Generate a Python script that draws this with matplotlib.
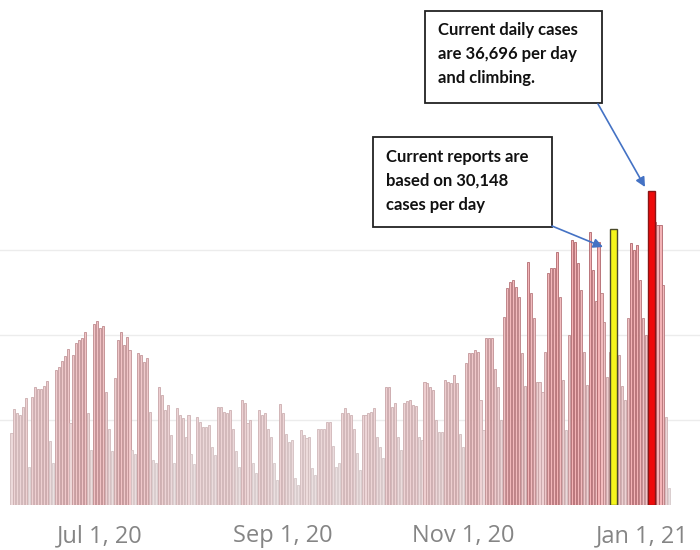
"""
Daily new cases bar chart with two callout boxes (highlighted days).
"""

import matplotlib
matplotlib.use('Agg')
import matplotlib.pyplot as plt
from matplotlib.colors import to_rgb
from matplotlib.patches import Rectangle, FancyArrowPatch
import numpy as np
import pandas as pd

# daily cases (thousands), Jun 1 2020 .. Jan 10 2021
cases = [
    8.5, 11.3, 10.8, 10.6, 11.5, 12.6, 4.5,
    12.7, 13.9, 13.7, 13.7, 14.0, 14.6, 7.5,
    4.9, 15.9, 16.2, 16.9, 17.5, 18.3, 9.6,
    17.6, 19.1, 19.4, 19.7, 20.3, 10.8, 6.5,
    21.3, 21.6, 20.8, 21.1, 13.3, 9.0, 6.4,
    15.0, 19.4, 20.4, 18.8, 19.8, 18.2, 6.5,
    6.0, 17.9, 17.6, 16.8, 17.3, 11.0, 5.3,
    5.0, 13.9, 12.9, 11.2, 11.8, 8.2, 4.9,
    11.4, 10.6, 10.2, 8.0, 10.6, 6.0, 4.8,
    10.4, 9.8, 9.2, 9.2, 9.4, 6.8, 5.9,
    11.5, 11.5, 11.0, 10.8, 11.2, 9.0, 6.3,
    4.5, 12.4, 12.0, 9.6, 10.0, 4.9, 3.8,
    11.2, 10.6, 10.8, 9.0, 8.0, 5.0, 2.9,
    11.9, 10.8, 8.4, 7.4, 7.6, 3.2, 2.4,
    8.8, 8.2, 7.9, 8.0, 4.4, 3.5, 9.0,
    9.0, 9.0, 9.8, 9.8, 7.0, 4.5, 5.0,
    10.8, 11.4, 10.8, 10.6, 9.0, 6.1, 4.1,
    10.6, 10.6, 10.8, 10.9, 11.4, 8.0, 6.8,
    5.5, 13.9, 13.9, 11.5, 12.0, 8.0, 6.5,
    12.0, 12.2, 12.4, 11.8, 11.6, 8.0, 7.6,
    14.5, 14.3, 13.9, 13.5, 10.0, 8.6, 8.6,
    14.7, 14.5, 14.3, 15.3, 14.3, 8.4, 6.8,
    16.7, 17.9, 17.9, 18.2, 18.0, 12.4, 8.8,
    19.6, 19.6, 19.6, 16.0, 13.9, 10.0, 22.1,
    25.5, 26.2, 26.5, 25.6, 24.5, 17.9, 14.0,
    28.6, 24.9, 22.0, 14.5, 14.5, 13.3, 18.0,
    27.3, 27.9, 27.9, 29.8, 24.5, 14.7, 8.8,
    20.0, 31.2, 30.9, 28.5, 25.3, 18.0, 14.1,
    32.1, 27.6, 24.0, 30.9, 25.0, 21.5, 15.1,
    18.0, 30.1, 25.0, 17.6, 14.0, 12.4, 22.0,
    30.8, 30.0, 30.6, 26.5, 22.0, 20.0, 18.0,
    36.7, 33.3, 33.0, 33.0, 25.9, 10.4, 2.0,
]
dates = pd.date_range('2020-06-01', periods=len(cases), freq='D')

# highlighted days
hl_dates = pd.to_datetime(['2020-12-22', '2021-01-04'])
hl_values = [32.5, 37.0]
hl_colors = ['#f5f51c', '#ee0a0a']

tick_dates = pd.to_datetime(['2020-07-01', '2020-09-01', '2020-11-01', '2021-01-01'])
tick_labels = ['Jul 1, 20', 'Sep 1, 20', 'Nov 1, 20', 'Jan 1, 21']

W, H = 700, 550


def mix(c1, c2, t):
    a, b = np.array(to_rgb(c1)), np.array(to_rgb(c2))
    return tuple(a + (b - a) * t)


fig = plt.figure(figsize=(7, 5.5), dpi=100)
ax = fig.add_axes([0, 45 / H, 1, 1 - 45 / H])

vals = np.array(cases)
t = np.clip((vals - 5) / 25, 0, 1)
faces = [mix('#ebdfe0', '#f4b3b6', v) for v in t]
edges = [mix('#d6c8c9', '#b0666b', v) for v in t]
ax.bar(dates, vals, width=0.7, color=faces, edgecolor=edges, linewidth=0.6, zorder=2)

ax.bar(hl_dates, hl_values, width=2.3, color=hl_colors,
       edgecolor=['#4a4a2a', '#8a1515'], linewidth=1.0, zorder=3)

start = dates[0]
ax.set_xlim(start - pd.Timedelta(days=3.9), start + pd.Timedelta(days=233.4))
ax.set_ylim(0, 505 / 8.5)
ax.set_yticks([10, 20, 30])
ax.yaxis.grid(True, color='#ececec', linewidth=1, zorder=0)
ax.set_axisbelow(True)
ax.tick_params(axis='y', left=False, labelleft=False)

ax.set_xticks(tick_dates)
ax.set_xticklabels(tick_labels, fontsize=17, color='#858585', family='Open Sans')
ax.tick_params(axis='x', length=0, pad=14)
for s in ax.spines.values():
    s.set_visible(False)


def fx(x):
    return x / W


def fy(y):
    return 1 - y / H


# callout boxes
boxes = [(425, 11, 602, 103), (373, 137, 552, 227)]
for x0, y0, x1, y1 in boxes:
    fig.patches.append(Rectangle((fx(x0), fy(y1)), fx(x1) - fx(x0), fy(y0) - fy(y1),
                                 transform=fig.transFigure, facecolor='white',
                                 edgecolor='#222222', linewidth=1.3, zorder=5))

lines1 = ['Current daily cases', 'are 36,696 per day', 'and climbing.']
lines2 = ['Current reports are', 'based on 30,148', 'cases per day']
for i, s in enumerate(lines1):
    fig.text(fx(438), fy(30 + 24 * i), s, ha='left', va='center', fontsize=12,
             fontweight='bold', family='Lato', color='#111111', zorder=6)
for i, s in enumerate(lines2):
    fig.text(fx(386), fy(157 + 24 * i), s, ha='left', va='center', fontsize=12,
             fontweight='bold', family='Lato', color='#111111', zorder=6)

arrow = dict(arrowstyle='-|>', color='#4472c4', lw=1.2, mutation_scale=14,
             shrinkA=0, shrinkB=0)
fig.add_artist(FancyArrowPatch((fx(598), fy(104)), (fx(645), fy(187)),
                               transform=fig.transFigure, zorder=6, **arrow))
fig.add_artist(FancyArrowPatch((fx(552), fy(226)), (fx(603), fy(247)),
                               transform=fig.transFigure, zorder=6, **arrow))

fig.savefig('out.png', dpi=100, facecolor='white')
